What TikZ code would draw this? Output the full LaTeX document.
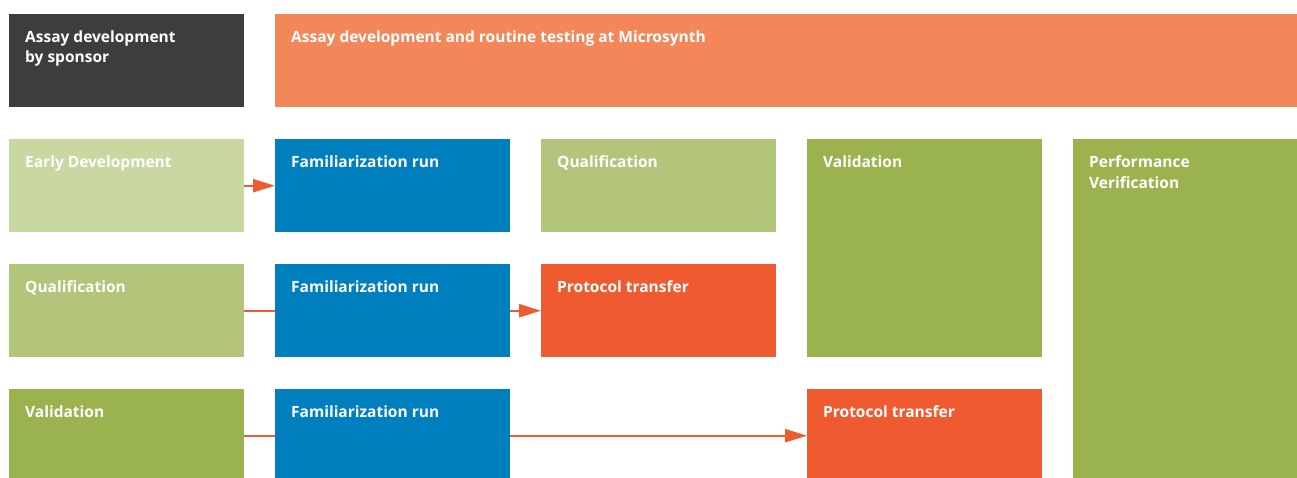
\documentclass[tikz,border=0pt]{standalone}
\usepackage{fontspec}
\setmainfont{Open Sans}
\usepackage{tikz}
\usetikzlibrary{arrows.meta}
\definecolor{sponsor}{HTML}{3D3D3D}
\definecolor{micro}{HTML}{F4875A}
\definecolor{early}{HTML}{C9D7A1}
\definecolor{qual}{HTML}{B3C57A}
\definecolor{valid}{HTML}{9BB34F}
\definecolor{fam}{HTML}{007FBE}
\definecolor{proto}{HTML}{F05A30}
\tikzset{
blk/.style={anchor=north west, inner sep=0pt, minimum width=235pt, minimum height=93pt},
txt/.style={anchor=north west, inner sep=0pt, xshift=16pt, yshift=-16.5pt, text=white, align=left,
  font=\bfseries\fontsize{15.5}{20.5}\selectfont},
flow/.style={draw=proto, line width=2.4pt},
}

\begin{document}
\begin{tikzpicture}[x=1pt,y=-1pt]
\useasboundingbox (0,0) rectangle (1297,477);
% header
\node[blk, fill=sponsor, label={[txt]north west:{Assay development\\by sponsor}}] (spons) at (9,14) {};
\node[blk, fill=micro, minimum width=1030pt, label={[txt]north west:{Assay development and routine testing at Microsynth}}] (micro) at (275,14) {};
% row 1
\node[blk, fill=early, label={[txt]north west:{Early Development}}] (dev1) at (9,139) {};
\node[blk, fill=fam, label={[txt]north west:{Familiarization run}}] (fam1) at (275,139) {};
\node[blk, fill=qual, label={[txt]north west:{Qualification}}] (qual1) at (541,139) {};
\node[blk, fill=valid, minimum height=218pt, label={[txt]north west:{Validation}}] (valid1) at (807,139) {};
\node[blk, fill=valid, minimum height=343pt, label={[txt]north west:{Performance\\Verification}}] (perf) at (1073,139) {};
% row 2
\node[blk, fill=qual, label={[txt]north west:{Qualification}}] (qual2) at (9,264) {};
\node[blk, fill=fam, label={[txt]north west:{Familiarization run}}] (fam2) at (275,264) {};
\node[blk, fill=proto, label={[txt]north west:{Protocol transfer}}] (proto2) at (541,264) {};
% row 3
\node[blk, fill=valid, label={[txt]north west:{Validation}}] (valid3) at (9,389) {};
\node[blk, fill=fam, label={[txt]north west:{Familiarization run}}] (fam3) at (275,389) {};
\node[blk, fill=proto, label={[txt]north west:{Protocol transfer}}] (proto3) at (807,389) {};
% arrows
\draw[flow, -{Triangle[length=22pt,width=13pt]}] (dev1.east) -- (fam1.west);
\draw[flow] (qual2.east) -- (fam2.west);
\draw[flow, -{Triangle[length=22pt,width=13pt]}] (fam2.east) -- (proto2.west);
\draw[flow] (valid3.east) -- (fam3.west);
\draw[flow, -{Triangle[length=22pt,width=13pt]}] (fam3.east) -- (proto3.west);
\end{tikzpicture}
\end{document}
